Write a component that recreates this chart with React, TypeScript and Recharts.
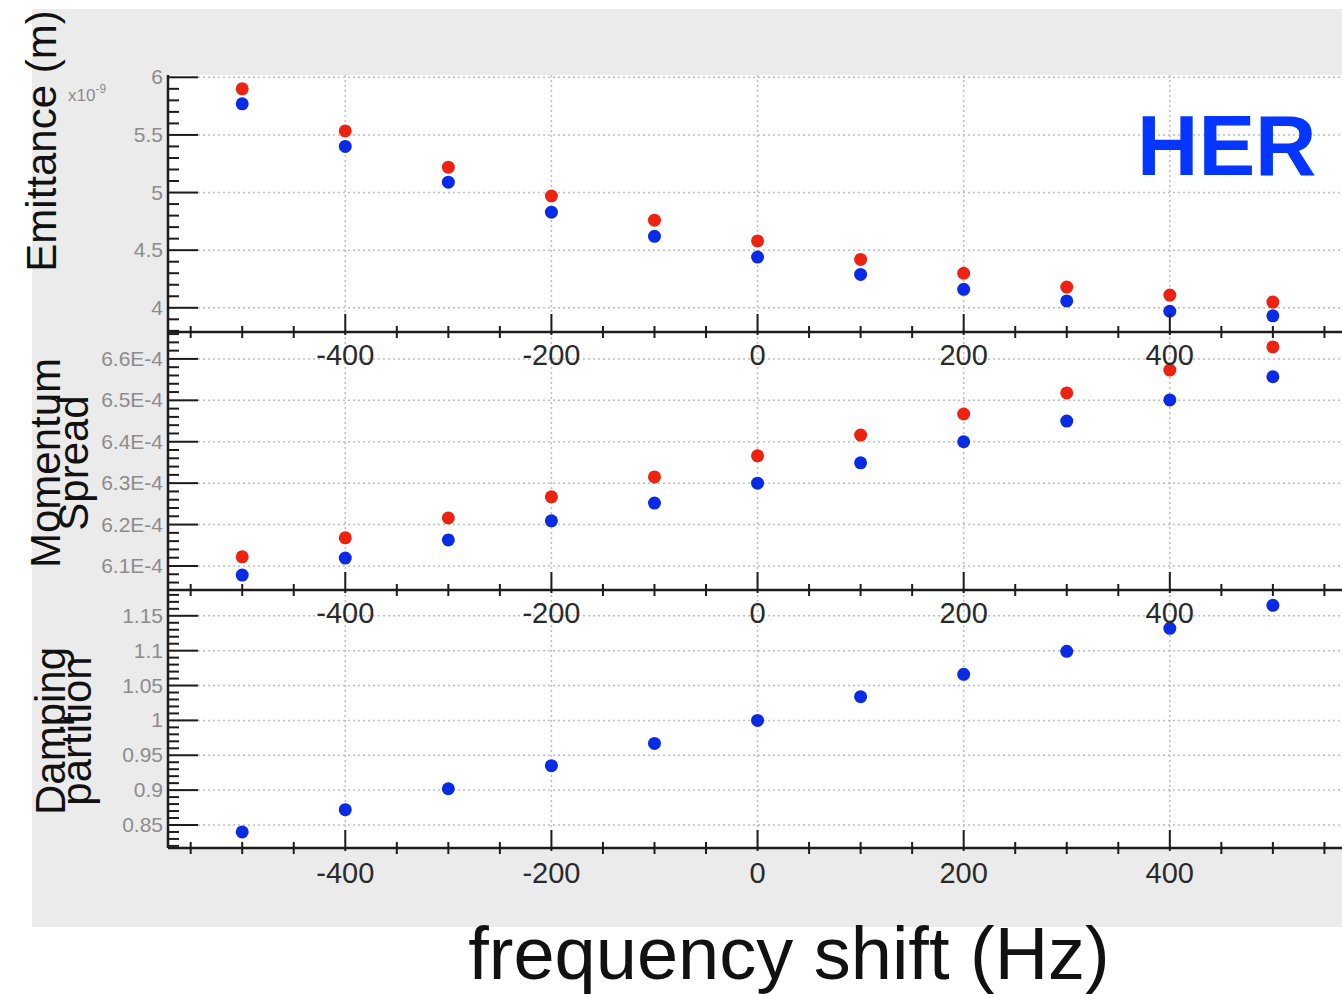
import React from 'react';
import { ScatterChart, Scatter, XAxis, YAxis, CartesianGrid } from 'recharts';

// frequency shift (Hz)
const freqShift = [-500, -400, -300, -200, -100, 0, 100, 200, 300, 400, 500];

// emittance, x1e-9 m
const emittanceRed = [5.9, 5.535, 5.22, 4.97, 4.76, 4.58, 4.42, 4.3, 4.18, 4.11, 4.05];
const emittanceBlue = [5.77, 5.4, 5.09, 4.83, 4.62, 4.44, 4.29, 4.16, 4.06, 3.97, 3.93];

// momentum spread, x1e-4
const spreadRed = [6.122, 6.168, 6.216, 6.267, 6.315, 6.366, 6.416, 6.467, 6.518, 6.573, 6.629];
const spreadBlue = [6.078, 6.119, 6.163, 6.209, 6.252, 6.3, 6.349, 6.4, 6.45, 6.501, 6.557];

// damping partition
const dampingBlue = [0.84, 0.872, 0.902, 0.935, 0.967, 1.0, 1.034, 1.066, 1.099, 1.132, 1.165];

const xMajor = [-400, -200, 0, 200, 400];
const emittanceTicks = [4, 4.5, 5, 5.5, 6];
const spreadTicks = [6.1, 6.2, 6.3, 6.4, 6.5, 6.6];
const dampingTicks = [0.85, 0.9, 0.95, 1, 1.05, 1.1, 1.15];

const FONT = "'Liberation Sans', Arial, Helvetica, sans-serif";
const INK = '#1c1c1c';
const RED = '#ee2211';
const BLUE = '#0a2be6';
const X_DOMAIN: [number, number] = [-572, 569];

const range = (a: number, b: number, step: number) => {
  const out: number[] = [];
  for (let v = a; v <= b + step / 2; v += step) out.push(Math.round(v * 1000) / 1000);
  return out;
};
const xAllTicks = range(-550, 550, 50);

const toPoints = (ys: number[]) => freqShift.map((f, i) => ({ f, v: ys[i] }));
const isMajor = (v: number, majors: number[]) => majors.some((m) => Math.abs(m - v) < 1e-6);

const dot = (color: string) => (p: any) => <circle cx={p.cx} cy={p.cy} r={6.5} fill={color} />;

// x ticks on the lower frame line, labels hang below it
const bottomTick = (labelDy: number) => (props: any) => {
  const { x, y, payload } = props;
  const major = isMajor(payload.value, xMajor);
  return (
    <g>
      <line x1={x} x2={x} y1={y - (major ? 18 : 6)} y2={y + (major ? 3 : 6)} stroke={INK} strokeWidth={2} />
      {major && (
        <text x={x} y={y + labelDy} textAnchor="middle" fontSize={29} fill="#2a2a2a" fontFamily={FONT}>
          {payload.value}
        </text>
      )}
    </g>
  );
};

const topTick = (props: any) => {
  const { x, y, payload } = props;
  const major = isMajor(payload.value, xMajor);
  return <line x1={x} x2={x} y1={y - (major ? 3 : 6)} y2={y + (major ? 18 : 6)} stroke={INK} strokeWidth={2} />;
};

const leftTick = (majors: number[], fmt: (v: number) => string) => (props: any) => {
  const { x, y, payload } = props;
  const major = isMajor(payload.value, majors);
  return (
    <g>
      <line x1={x} x2={x + (major ? 30 : 11)} y1={y} y2={y} stroke={INK} strokeWidth={2} />
      {major && (
        <text x={x - 5} y={y + 7} textAnchor="end" fontSize={21} fill="#8c8c8c" fontFamily={FONT}>
          {fmt(payload.value)}
        </text>
      )}
    </g>
  );
};

const rightTick = (majors: number[]) => (props: any) => {
  const { x, y, payload } = props;
  const major = isMajor(payload.value, majors);
  return <line x1={x - (major ? 27 : 11)} x2={x} y1={y} y2={y} stroke={INK} strokeWidth={2} />;
};

interface PanelProps {
  top: number;
  marginTop: number;
  height: number;
  domain: [number, number];
  majors: number[];
  minors: number[];
  fmt: (v: number) => string;
  labelDy: number;
  series: { data: { f: number; v: number }[]; color: string }[];
}

function Panel({ top, marginTop, height, domain, majors, minors, fmt, labelDy, series }: PanelProps) {
  const frame = { stroke: INK, strokeWidth: 2.5 };
  return (
    <div style={{ position: 'absolute', left: 0, top }}>
      <ScatterChart width={1346} height={height} margin={{ top: marginTop, right: 2, bottom: 0, left: 0 }}>
        <CartesianGrid
          fill="#ffffff"
          stroke="#bdbdbd"
          strokeWidth={1.5}
          strokeDasharray="2 3"
          horizontalValues={majors}
          verticalValues={xMajor}
        />
        <XAxis
          dataKey="f"
          type="number"
          domain={X_DOMAIN}
          allowDataOverflow
          ticks={xAllTicks}
          interval={0}
          tickSize={0}
          tickMargin={0}
          height={40}
          axisLine={frame}
          tick={bottomTick(labelDy)}
        />
        <XAxis
          xAxisId="t"
          orientation="top"
          type="number"
          domain={X_DOMAIN}
          allowDataOverflow
          ticks={xAllTicks}
          interval={0}
          tickSize={0}
          tickMargin={0}
          height={0}
          axisLine={frame}
          tick={topTick}
        />
        <YAxis
          dataKey="v"
          type="number"
          domain={domain}
          allowDataOverflow
          ticks={minors}
          interval={0}
          tickSize={0}
          tickMargin={0}
          width={168}
          axisLine={frame}
          tick={leftTick(majors, fmt)}
        />
        <YAxis
          yAxisId="r"
          orientation="right"
          type="number"
          domain={domain}
          allowDataOverflow
          ticks={minors}
          interval={0}
          tickSize={0}
          tickMargin={0}
          width={0}
          axisLine={frame}
          tick={rightTick(majors)}
        />
        {series.map((s, i) => (
          <Scatter key={i} data={s.data} shape={dot(s.color)} isAnimationActive={false} />
        ))}
      </ScatterChart>
    </div>
  );
}

export default function App() {
  return (
    <div
      style={{
        position: 'absolute',
        left: 0,
        top: 0,
        width: 1342,
        height: 994,
        overflow: 'hidden',
        background: '#ffffff',
        fontFamily: FONT,
      }}
    >
      <div style={{ position: 'absolute', left: 32, top: 9, width: 1310, height: 918, background: '#ebebeb' }} />

      {/* drawn bottom-up so each panel's x labels sit over the panel below */}
      <Panel
        top={580}
        marginTop={10}
        height={308}
        domain={[0.817, 1.187]}
        majors={dampingTicks}
        minors={range(0.82, 1.18, 0.01)}
        fmt={(v) => String(Math.round(v * 100) / 100)}
        labelDy={35}
        series={[{ data: toPoints(dampingBlue), color: BLUE }]}
      />
      <Panel
        top={322}
        marginTop={10}
        height={308}
        domain={[6.042, 6.665]}
        majors={spreadTicks}
        minors={range(6.06, 6.66, 0.02)}
        fmt={(v) => `${v.toFixed(1)}E-4`}
        labelDy={33}
        series={[
          { data: toPoints(spreadRed), color: RED },
          { data: toPoints(spreadBlue), color: BLUE },
        ]}
      />
      <Panel
        top={0}
        marginTop={75}
        height={372}
        domain={[3.79, 6.02]}
        majors={emittanceTicks}
        minors={range(3.8, 6.0, 0.1)}
        fmt={(v) => String(v)}
        labelDy={33}
        series={[
          { data: toPoints(emittanceRed), color: RED },
          { data: toPoints(emittanceBlue), color: BLUE },
        ]}
      />

      <svg
        width={1342}
        height={994}
        style={{ position: 'absolute', left: 0, top: 0, pointerEvents: 'none' }}
        fontFamily={FONT}
      >
        <text x={68} y={101} fontSize={17} fill="#8c8c8c">
          x10<tspan fontSize={12} dy={-8}>-9</tspan>
        </text>
        <text transform="translate(56,141) rotate(-90)" textAnchor="middle" fontSize={42} fill="#111">
          Emittance (m)
        </text>
        <text transform="translate(60,463) rotate(-90)" textAnchor="middle" fontSize={42} fill="#111">
          Momentum
        </text>
        <text transform="translate(88,463) rotate(-90)" textAnchor="middle" fontSize={42} fill="#111">
          Spread
        </text>
        <text transform="translate(65,731) rotate(-90)" textAnchor="middle" fontSize={42} fill="#111">
          Damping
        </text>
        <text transform="translate(91,731) rotate(-90)" textAnchor="middle" fontSize={42} fill="#111">
          partition
        </text>
        <text x={1137} y={175} fontSize={85} fontWeight="bold" fill="#0536ff">
          HER
        </text>
        <text x={789} y={979} textAnchor="middle" fontSize={74} fill="#111">
          frequency shift (Hz)
        </text>
      </svg>
    </div>
  );
}
